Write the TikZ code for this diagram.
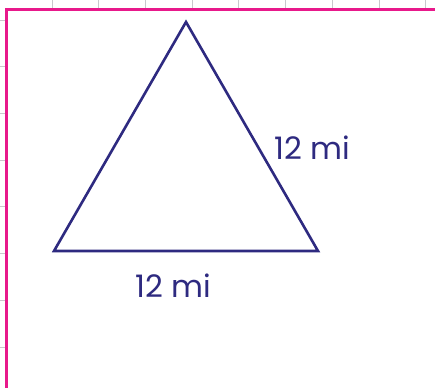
\documentclass[tikz,border=0pt]{standalone}
\usepackage{fontspec}
\setmainfont{Poppins}
\usepackage{tikz}
\usetikzlibrary{positioning,calc}
\usepackage{xcolor}
\definecolor{ink}{HTML}{2E2A80}
\definecolor{frame}{HTML}{E8198B}
\definecolor{gridgray}{HTML}{C8C8CC}

\begin{document}
\begin{tikzpicture}[x=1pt, y=-1pt, every node/.style={font=\fontsize{31}{35}\selectfont, text=ink}]
\tikzset{side/.style={draw=ink, line width=2.6pt, line join=miter}}
\tikzset{tick/.style={draw=gridgray, line width=0.8pt}}
\useasboundingbox (0,0) rectangle (435,387);
\fill[white] (0,0) rectangle (435,387);
\foreach \x in {52,98.7,145.4,192.1,238.8,285.5,332.2,378.9,425.6} \draw[tick] (\x,0) -- (\x,9);
\foreach \y in {20,66.7,113.4,160.1,206.8,253.5,300.2,346.9} \draw[tick] (0,\y) -- (5,\y);
\draw[frame, line width=2.2pt] (6.5,390) -- (6.5,9.5) -- (440,9.5);
\coordinate (top) at (186,22);
\coordinate (bl) at (54,251);
\coordinate (br) at (318,251);
\draw[side] (top) -- (br) -- (bl) -- cycle;
\node (lright) at (312.5,148) {12 mi};
\node (lbottom) at (173.5,286) {12 mi};
\end{tikzpicture}
\end{document}
